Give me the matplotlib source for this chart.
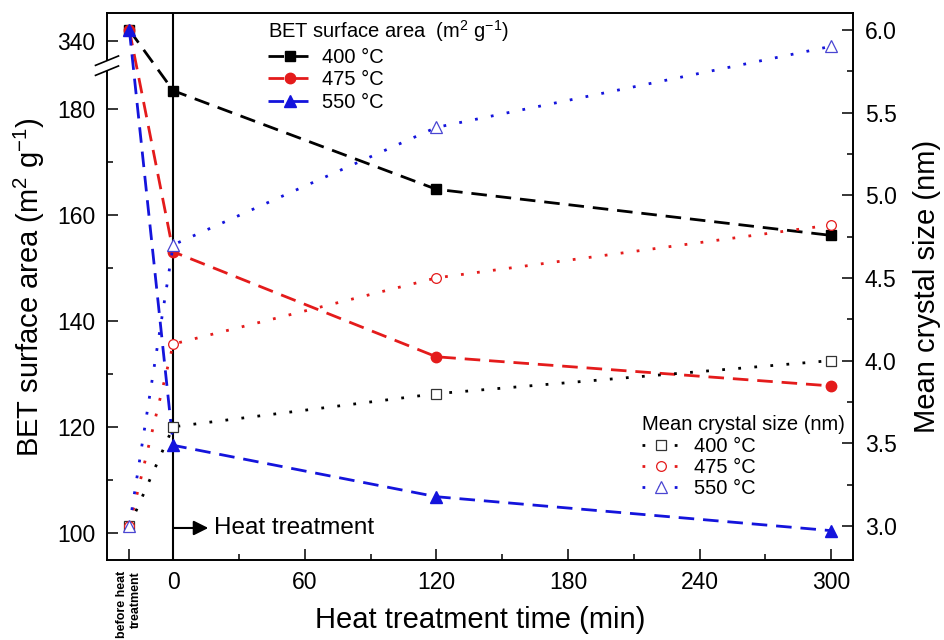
import numpy as np
import matplotlib
matplotlib.use("Agg")
import matplotlib.pyplot as plt
from matplotlib.lines import Line2D
from matplotlib.patches import Polygon
from matplotlib.transforms import IdentityTransform

plt.rcParams['font.family'] = ['Liberation Sans', 'DejaVu Sans']
plt.rcParams['mathtext.default'] = 'regular'

# ---------------- data ----------------
x_positions = [-20, 0, 120, 300]          # -20 = "before heat treatment"
x_major_ticks = [-20, 0, 60, 120, 180, 240, 300]
x_tick_labels = ["before heat\ntreatment", "0", "60", "120", "180", "240", "300"]
x_minor_ticks = [30, 90, 150, 210, 270]

bet_400 = [342.0, 183.5, 164.9, 156.2]
bet_475 = [342.0, 153.1, 133.3, 127.8]
bet_550 = [342.0, 116.6, 106.9, 100.5]

size_400 = [3.00, 3.60, 3.80, 4.00]
size_475 = [3.00, 4.10, 4.50, 4.82]
size_550 = [3.00, 4.70, 5.41, 5.90]

bet_major_ticks = [100, 120, 140, 160, 180, 340]
bet_minor_ticks = [110, 130, 150, 170]
size_major_ticks = [3.0, 3.5, 4.0, 4.5, 5.0, 5.5, 6.0]
size_minor_ticks = [3.25, 3.75, 4.25, 4.75, 5.25, 5.75]

temps = ["400 °C", "475 °C", "550 °C"]

HEAT_START = 0
ARROW_END = 16
ARROW_Y = 101
TEXT_X = 18.5

# ---------------- broken left scale ----------------
LOW_TOP = 187.5
HIGH_BOT = 336.0
HIGH_SHIFT = 147.06
T_HIGH = HIGH_BOT - HIGH_SHIFT


def fwd(v):
    v = np.asarray(v, dtype=float)
    mid = LOW_TOP + (v - LOW_TOP) * (T_HIGH - LOW_TOP) / (HIGH_BOT - LOW_TOP)
    return np.where(v <= LOW_TOP, v, np.where(v >= HIGH_BOT, v - HIGH_SHIFT, mid))


def inv(t):
    t = np.asarray(t, dtype=float)
    mid = LOW_TOP + (t - LOW_TOP) * (HIGH_BOT - LOW_TOP) / (T_HIGH - LOW_TOP)
    return np.where(t <= LOW_TOP, t, np.where(t >= T_HIGH, t + HIGH_SHIFT, mid))


W, H = 944, 640
L, R, T, B = 107, 853, 13.3, 560
fig = plt.figure(figsize=(W / 100, H / 100), dpi=100)
ax = fig.add_axes([L / W, 1 - B / H, (R - L) / W, (B - T) / H])
ax.set_yscale('function', functions=(fwd, inv))
ax.set_xlim(-30.2, 310.0)
ax.set_ylim(94.96, float(inv(198.1)))

ax2 = ax.twinx()
ax2.set_ylim(2.7944, 6.0998)

black = '#000000'
red = '#e41b1b'
blue = '#1414dc'
tri_edge = '#4a46d2'

dash = (0, (5.6, 3.2))
dot = (0, (1, 4.8))

ax.axvline(HEAT_START, color='k', lw=1.5, zorder=1.5)

bet_series = [(bet_400, black, 's', 7.0), (bet_475, red, 'o', 7.5), (bet_550, blue, '^', 8.5)]
bet_handles = []
for vals, c, m, ms in bet_series:
    h, = ax.plot(x_positions, vals, color=c, ls=dash, lw=2.0, marker=m, ms=ms,
                 mfc=c, mec=c, zorder=3)
    bet_handles.append(h)

size_series = [(size_400, black, '#333333', 's', 6.5), (size_475, red, red, 'o', 7.0),
               (size_550, blue, tri_edge, '^', 8.0)]
size_handles = []
for vals, c, ec, m, ms in size_series:
    h, = ax2.plot(x_positions, vals, color=c, ls=dot, lw=2.0, marker=m, ms=ms,
                  mfc='white', mec=ec, mew=0.9, zorder=3)
    size_handles.append(h)

# ticks
ax.set_xticks(x_major_ticks)
ax.set_xticklabels(x_tick_labels)
ax.set_xticks(x_minor_ticks, minor=True)
ax.set_yticks(bet_major_ticks)
ax.set_yticklabels([str(v) for v in bet_major_ticks])
ax.set_yticks(bet_minor_ticks, minor=True)
ax2.set_yticks(size_major_ticks)
ax2.set_yticklabels(["%.1f" % v for v in size_major_ticks])
ax2.set_yticks(size_minor_ticks, minor=True)

for a in (ax, ax2):
    a.tick_params(which='major', direction='in', length=8, width=1.1, labelsize=16.5)
    a.tick_params(which='minor', direction='in', length=4.5, width=1.1)
    for s in a.spines.values():
        s.set_linewidth(1.2)
ax.tick_params(axis='y', pad=8.5, right=False, which='both')
ax.tick_params(axis='x', pad=8, top=False, which='both')
ax2.tick_params(axis='y', pad=8.5)

lbl = ax.xaxis.get_major_ticks()[0].label1
lbl.set_rotation(90)
lbl.set_fontsize(9.0)
lbl.set_fontweight('bold')
lbl.set_multialignment('right')

# labels
ax.set_ylabel('BET surface area (m$^2$ g$^{-1}$)', fontsize=21)
ax.yaxis.set_label_coords((29 - L) / (R - L), 0.5)
ax.yaxis.label.set_va('center')
ax2.set_ylabel('Mean crystal size (nm)', fontsize=21, rotation=90)
ax2.yaxis.set_label_coords((927 - L) / (R - L), 0.5)
ax2.yaxis.label.set_va('center')
ax.set_xlabel('Heat treatment time (min)', fontsize=21)
ax.xaxis.set_label_coords(0.5, (B - 620) / (B - T))
ax.xaxis.label.set_va('center')

# heat treatment arrow
ax.annotate('', xy=(ARROW_END, ARROW_Y), xytext=(HEAT_START, ARROW_Y),
            arrowprops=dict(arrowstyle='-|>', color='k', lw=1.5,
                            mutation_scale=22, shrinkA=0, shrinkB=0))
ax.text(TEXT_X, ARROW_Y, 'Heat treatment', fontsize=17.5, va='center', ha='left')

# legends
leg1 = ax2.legend(bet_handles, temps, title='BET surface area  (m$^2$ g$^{-1}$)',
                  loc='upper left', bbox_to_anchor=(268 / W, 1 - 18.5 / H),
                  bbox_transform=fig.transFigure, frameon=False, fontsize=14.5,
                  title_fontsize=14.5, borderpad=0, borderaxespad=0, labelspacing=0.17,
                  handlelength=2.2, handletextpad=0.5, numpoints=1, alignment='left')
ax2.add_artist(leg1)
leg2 = ax2.legend(size_handles, temps, title='Mean crystal size (nm)',
                  loc='upper left', bbox_to_anchor=(641.7 / W, 1 - 415.2 / H),
                  bbox_transform=fig.transFigure, frameon=False, fontsize=14.5,
                  title_fontsize=14.5, borderpad=0, borderaxespad=0, labelspacing=0.12,
                  handlelength=1.9, handletextpad=0.7, numpoints=1, alignment='left')

# axis break marks on left spine
break_raw = float(inv((LOW_TOP + T_HIGH) / 2))
cx = ax.transAxes.transform((0, 0))[0]
cy = ax.transData.transform((0, break_raw))[1]
hw, hr, sep = 11.5, 4.7, 5.0
sl = hr / hw
gap = Polygon([(cx - 4, cy - sep - 4 * sl), (cx + 4, cy - sep + 4 * sl),
               (cx + 4, cy + sep + 4 * sl), (cx - 4, cy + sep - 4 * sl)],
              closed=True, facecolor='white', edgecolor='none',
              transform=IdentityTransform(), zorder=10)
fig.add_artist(gap)
for d in (-sep, sep):
    fig.add_artist(Line2D([cx - hw, cx + hw], [cy + d - hr, cy + d + hr], color='k',
                          lw=1.2, transform=IdentityTransform(), zorder=11))

fig.savefig('out.png', dpi=100)
